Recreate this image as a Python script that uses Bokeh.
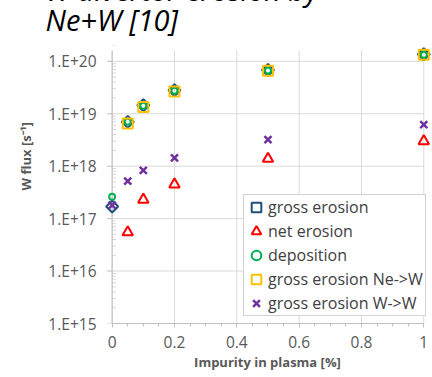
import math
from bokeh.plotting import figure
from bokeh.models import Title, FixedTicker, CustomJSTickFormatter, Range1d
from bokeh.embed import file_html
from bokeh.resources import INLINE

# ---- data ----
x_all = [0, 0.05, 0.1, 0.2, 0.5, 1.0]
x_imp = [0.05, 0.1, 0.2, 0.5, 1.0]
gross_erosion = [1.7e17, 7.0e18, 1.45e19, 2.8e19, 6.8e19, 1.36e20]
deposition = [2.6e17, 7.0e18, 1.42e19, 2.75e19, 6.7e19, 1.33e20]
net_erosion = [5.5e16, 2.3e17, 4.5e17, 1.38e18, 3.0e18]
gross_ne_w = [6.5e18, 1.35e19, 2.65e19, 6.6e19, 1.33e20]
gross_w_w = [1.8e17, 5.2e17, 8.3e17, 1.44e18, 3.2e18, 6.2e18]

x_ticks = [0, 0.2, 0.4, 0.6, 0.8, 1.0]
x_minor = [i / 20 for i in range(21)]
y_exps = [15, 16, 17, 18, 19, 20]

title_text = "W divertor erosion by\nNe+W [10]"
x_label = "Impurity in plasma [%]"
y_label = "W flux [s\u207b\u00b9]"

GRID = "#d9d9d9"
AX = "#bfbfbf"
TXT = "#595959"
FONT = "Open Sans"

X_LO, X_HI = 0.0, 1.0          # extent of axis / grid
Y_LO, Y_HI = 1e15, 1.6e20
SHIFT = 80                      # top part of canvas hidden above the window
PX = 1 / 311.6                  # one screen pixel in x data units

p = figure(width=432, height=377 + SHIFT,
           x_range=Range1d(-0.031, 1.028), y_range=Range1d(1e15, 2.0e20),
           y_axis_type="log", output_backend="svg", toolbar_location=None,
           min_border_left=102, min_border_right=0, min_border_top=45 + SHIFT,
           min_border_bottom=54)
p.margin = (-SHIFT, 0, 0, 0)
p.outline_line_color = None
p.background_fill_color = "white"
p.border_fill_color = "white"
p.xgrid.visible = False
p.ygrid.visible = False

y_ticks = [float(10 ** e) for e in y_exps]
y_minor = [float(m * 10 ** e) for e in y_exps for m in range(2, 10)]

# grid lines limited to the plotting area of the original
p.segment(x0=x_ticks, x1=x_ticks, y0=[Y_LO] * len(x_ticks), y1=[Y_HI] * len(x_ticks),
          line_color=GRID, line_width=1, level="underlay")
p.segment(x0=[X_LO] * len(y_ticks), x1=[X_HI] * len(y_ticks), y0=y_ticks, y1=y_ticks,
          line_color=GRID, line_width=1, level="underlay")
# vertical axis line at x = 0 with its ticks
p.segment(x0=[X_LO] * len(y_minor), x1=[X_LO + 4 * PX] * len(y_minor), y0=y_minor, y1=y_minor,
          line_color=GRID, line_width=1, level="underlay")
p.segment(x0=[X_LO - 5 * PX] * len(y_ticks), x1=[X_LO] * len(y_ticks), y0=y_ticks, y1=y_ticks,
          line_color=AX, line_width=1, level="underlay")
p.segment(x0=[X_LO], x1=[X_LO], y0=[Y_LO], y1=[Y_HI],
          line_color=AX, line_width=1, level="underlay")

# series (order as in legend)
p.scatter(x_all, gross_erosion, marker="square", angle=math.pi / 4, size=8.5,
          fill_color=None, line_color="#1f4e79", line_width=2,
          legend_label="gross erosion")
p.scatter(x_imp, net_erosion, marker="triangle", size=10.5,
          fill_color=None, line_color="#ff0000", line_width=2,
          legend_label="net erosion")
p.scatter(x_all, deposition, marker="circle", size=6,
          fill_color=None, line_color="#00b050", line_width=2,
          legend_label="deposition")
p.scatter(x_imp, gross_ne_w, marker="square", size=10,
          fill_color=None, line_color="#ffc000", line_width=2,
          legend_label="gross erosion Ne->W")
p.scatter(x_all, gross_w_w, marker="x", size=10,
          line_color="#7030a0", line_width=2.5,
          legend_label="gross erosion W->W")

# x axis
p.xaxis.bounds = (X_LO, X_HI)
p.xaxis.ticker = FixedTicker(ticks=x_ticks, minor_ticks=x_minor)
p.xaxis.formatter = CustomJSTickFormatter(code="return String(Math.round(tick*10)/10);")
p.xaxis.axis_label = x_label
p.xaxis.axis_label_text_font = FONT
p.xaxis.axis_label_text_font_style = "bold"
p.xaxis.axis_label_text_font_size = "13px"
p.xaxis.axis_label_text_color = TXT
p.xaxis.axis_label_standoff = 2
p.xaxis.major_label_text_font = FONT
p.xaxis.major_label_text_font_size = "15.5px"
p.xaxis.major_label_text_color = TXT
p.xaxis.major_label_standoff = 8
p.xaxis.axis_line_color = AX
p.xaxis.major_tick_line_color = AX
p.xaxis.minor_tick_line_color = AX
p.xaxis.major_tick_out = 4
p.xaxis.major_tick_in = 0
p.xaxis.minor_tick_out = 3
p.xaxis.minor_tick_in = 0

# y axis: labels only (line and ticks drawn at x = 0 above)
p.yaxis.ticker = FixedTicker(ticks=y_ticks, minor_ticks=y_minor)
p.yaxis.formatter = CustomJSTickFormatter(
    code="return '1.E+' + Math.round(Math.log10(tick));")
p.yaxis.major_label_text_font = FONT
p.yaxis.major_label_text_font_size = "15.5px"
p.yaxis.major_label_text_color = TXT
p.yaxis.major_label_standoff = 6
p.yaxis.axis_line_color = None
p.yaxis.major_tick_line_color = None
p.yaxis.minor_tick_line_color = None
p.yaxis.major_tick_out = 0
p.yaxis.major_tick_in = 0
p.yaxis.minor_tick_in = 0
p.yaxis.minor_tick_out = 0

# y axis title (in left side panel, above the centre like the original)
p.add_layout(Title(text=y_label, align="left", offset=133, standoff=22,
                   vertical_align="bottom", text_font=FONT,
                   text_font_style="bold", text_font_size="13px",
                   text_color=TXT), "left")

# chart title (first line partly hidden above the window)
p.title.text = title_text
p.title.align = "left"
p.title.offset = -57
p.title.vertical_align = "bottom"
p.title.standoff = 14
p.title.text_font = FONT
p.title.text_font_style = "italic"
p.title.text_font_size = "29px"
p.title.text_color = "black"
p.title.text_line_height = 0.75

# legend
lg = p.legend[0]
lg.location = (141, 7)
lg.border_line_color = "#a6a6a6"
lg.border_line_width = 1
lg.background_fill_color = "white"
lg.background_fill_alpha = 1
lg.label_text_font = FONT
lg.label_text_font_size = "16px"
lg.label_text_color = "#404040"
lg.glyph_width = 24
lg.glyph_height = 24
lg.label_height = 24
lg.label_width = 157
lg.spacing = 0
lg.padding = 0
lg.label_standoff = 0
lg.margin = 0

open("out.html", "w").write(file_html(p, INLINE))
